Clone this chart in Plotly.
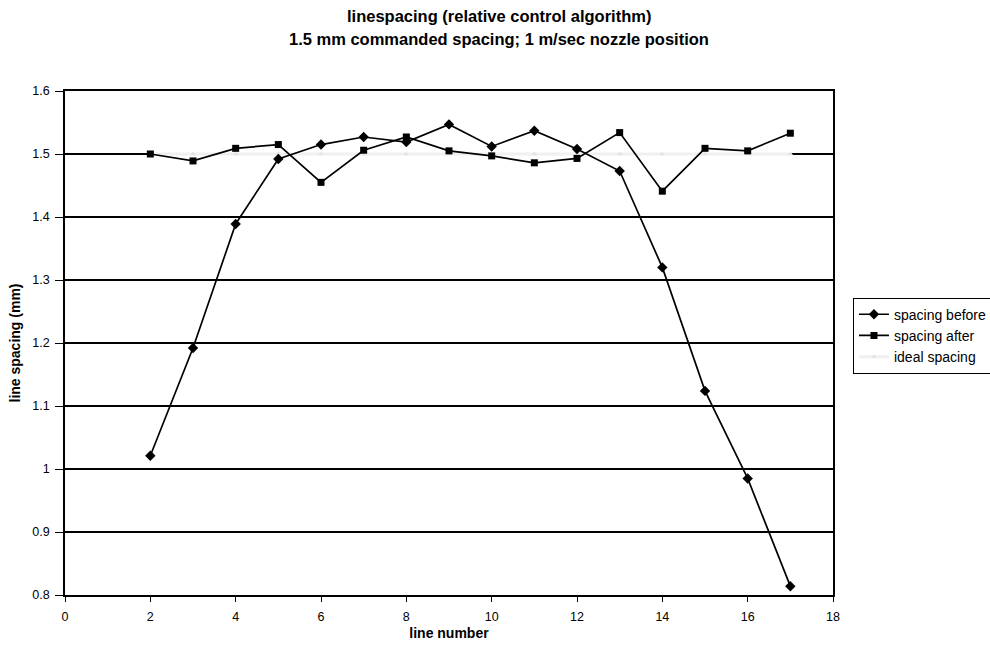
import plotly.graph_objects as go

# line numbers and measured spacings (mm)
line_number = [2, 3, 4, 5, 6, 7, 8, 9, 10, 11, 12, 13, 14, 15, 16, 17]
spacing_before = [1.021, 1.192, 1.389, 1.492, 1.515, 1.527, 1.519, 1.547, 1.512,
                  1.537, 1.508, 1.473, 1.320, 1.124, 0.985, 0.814]
spacing_after = [1.500, 1.489, 1.509, 1.515, 1.455, 1.506, 1.527, 1.505, 1.497,
                 1.486, 1.493, 1.534, 1.441, 1.509, 1.505, 1.533]
ideal_spacing = [1.5] * 16

x_ticks = [0, 2, 4, 6, 8, 10, 12, 14, 16, 18]
y_ticks = [0.8, 0.9, 1.0, 1.1, 1.2, 1.3, 1.4, 1.5, 1.6]
y_tick_text = ["0.8", "0.9", "1", "1.1", "1.2", "1.3", "1.4", "1.5", "1.6"]

title_lines = ["linespacing (relative control algorithm)",
               "1.5 mm commanded spacing; 1 m/sec nozzle position"]

FONT = "Liberation Sans, Arial, sans-serif"

fig = go.Figure()

fig.add_trace(go.Scatter(
    x=line_number, y=ideal_spacing, name="ideal spacing", mode="lines+markers",
    line=dict(color="#f0f0f0", width=3),
    marker=dict(symbol="triangle-up", size=5, color="#e4e4e4"),
    legendrank=3,
))
fig.add_trace(go.Scatter(
    x=line_number, y=spacing_before, name="spacing before", mode="lines+markers",
    line=dict(color="black", width=1.7),
    marker=dict(symbol="diamond", size=8, color="black"),
    legendrank=1,
))
fig.add_trace(go.Scatter(
    x=line_number, y=spacing_after, name="spacing after", mode="lines+markers",
    line=dict(color="black", width=1.7),
    marker=dict(symbol="square", size=7, color="black"),
    legendrank=2,
))

# two-line heading, one annotation per line
for text, ypos in zip(title_lines, [1.149, 1.103]):
    fig.add_annotation(
        text=f"<b>{text}</b>", xref="paper", yref="paper",
        x=0.565, y=ypos, xanchor="center", yanchor="middle", showarrow=False,
        font=dict(family=FONT, size=16.5, color="black"),
    )

fig.update_layout(
    width=990, height=651,
    margin=dict(l=65, r=157, t=91, b=56, autoexpand=False),
    paper_bgcolor="white", plot_bgcolor="white",
    font=dict(family=FONT, size=12, color="black"),
    legend=dict(
        x=1.026, xanchor="left", y=0.590, yanchor="top",
        bordercolor="black", borderwidth=1, bgcolor="white",
        font=dict(family=FONT, size=14, color="black"),
        itemwidth=30, tracegroupgap=0,
    ),
    xaxis=dict(
        range=[0, 18], tickvals=x_ticks, ticks="outside", ticklen=5,
        tickcolor="black", showgrid=False, zeroline=False,
        showline=True, linecolor="black", linewidth=1.5, mirror=True,
        ticklabelstandoff=4,
        tickfont=dict(family=FONT, size=12.5, color="black"),
        title=dict(text="<b>line number</b>", standoff=5,
                   font=dict(family=FONT, size=14, color="black")),
    ),
    yaxis=dict(
        range=[0.8, 1.6], tickvals=y_ticks, ticktext=y_tick_text,
        ticks="outside", ticklen=8, tickcolor="black",
        showgrid=True, gridcolor="black", gridwidth=1.5, zeroline=False,
        showline=True, linecolor="black", linewidth=1.5, mirror=True,
        ticklabelstandoff=3,
        tickfont=dict(family=FONT, size=12.5, color="black"),
        title=dict(text="<b>line spacing (mm)</b>", standoff=8,
                   font=dict(family=FONT, size=14, color="black")),
    ),
)

fig.write_html("out.html")
